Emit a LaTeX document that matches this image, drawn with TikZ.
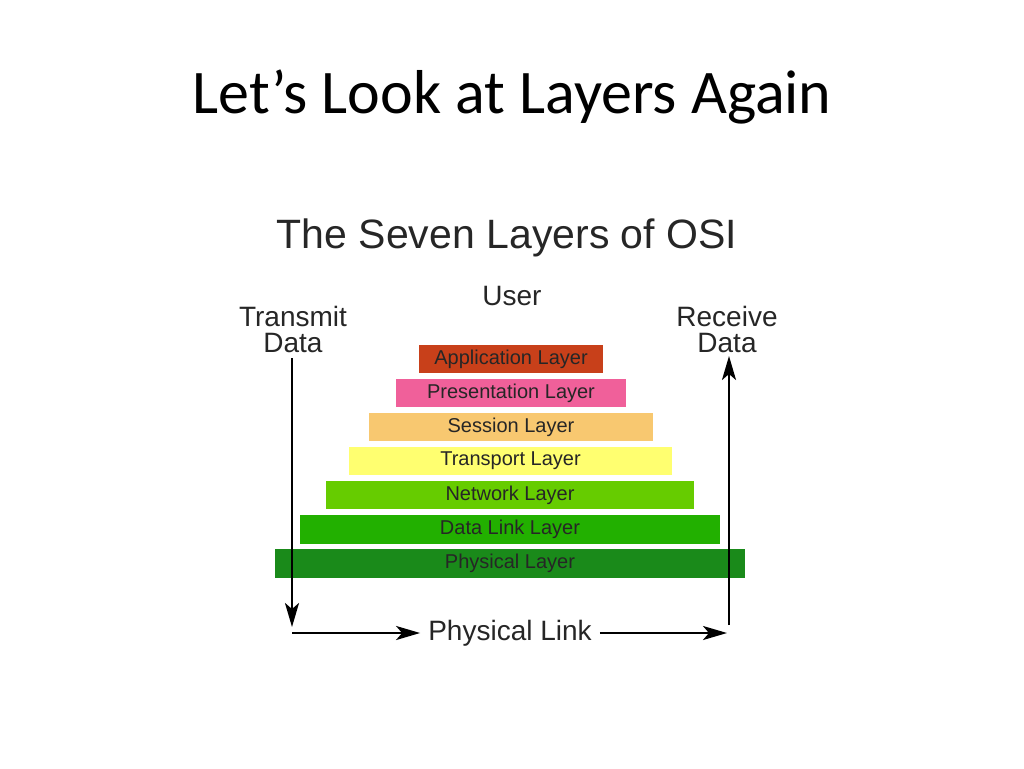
\documentclass[tikz,border=0pt]{standalone}
\usepackage{fontspec}
\setmainfont{Liberation Sans}
\newfontfamily\titlefont{Carlito}
\usetikzlibrary{arrows.meta}
\definecolor{cApp}{HTML}{C8401A}
\definecolor{cPre}{HTML}{F0609A}
\definecolor{cSes}{HTML}{F8C870}
\definecolor{cTra}{HTML}{FFFF70}
\definecolor{cNet}{HTML}{66CC00}
\definecolor{cDat}{HTML}{22B000}
\definecolor{cPhy}{HTML}{1A8A1A}
\begin{document}
\begin{tikzpicture}[x=1pt,y=-1pt,
  layer/.style={inner sep=0pt,minimum height=28pt,font=\fontsize{20}{20}\selectfont,text=black!85},
  flow/.style={line width=2.5pt,-{Stealth[length=24pt,width=14pt,inset=6pt]}},
  lbl/.style={font=\fontsize{28}{28}\selectfont,text=black!85,align=center}]
\useasboundingbox (0,0) rectangle (1024,768);
\node[font=\titlefont\fontsize{62}{62}\selectfont] (title) at (512,97) {Let’s Look at Layers Again};
\node[font=\fontsize{41}{41}\selectfont,text=black!85] (sub) at (507,238) {The Seven Layers of OSI};
\node[lbl] (user) at (512,296) {User};
\node[lbl] (tx) at (293,329) {Transmit\\[-2pt]Data};
\node[lbl] (rx) at (727,329) {Receive\\[-2pt]Data};
\node[layer,fill=cApp,minimum width=184pt] (app) at (511,359) {Application Layer};
\node[layer,fill=cPre,minimum width=230pt] (pre) at (511,393) {Presentation Layer};
\node[layer,fill=cSes,minimum width=284pt] (ses) at (511,427) {Session Layer};
\node[layer,fill=cTra,minimum width=323pt] (tra) at (510.5,461) {Transport Layer};
\node[layer,fill=cNet,minimum width=368pt] (net) at (510,495) {Network Layer};
\node[layer,fill=cDat,minimum width=420pt,minimum height=29pt] (dat) at (510,529.5) {Data Link Layer};
\node[layer,fill=cPhy,minimum width=470pt,minimum height=29pt] (phy) at (510,563.5) {Physical Layer};
\node[lbl,inner xsep=8pt] (link) at (510,633) {Physical Link};
\coordinate (ltop) at (292,358);
\coordinate (lbot) at (292,627);
\coordinate (lcorner) at (292,633);
\coordinate (rcorner) at (727,633);
\coordinate (rbot) at (729,625);
\coordinate (rtop) at (729,356);
\draw[flow] (ltop) -- (lbot);
\draw[flow] (lcorner) -- (link.west);
\draw[flow] (link.east) -- (rcorner);
\draw[flow] (rbot) -- (rtop);
\end{tikzpicture}
\end{document}
